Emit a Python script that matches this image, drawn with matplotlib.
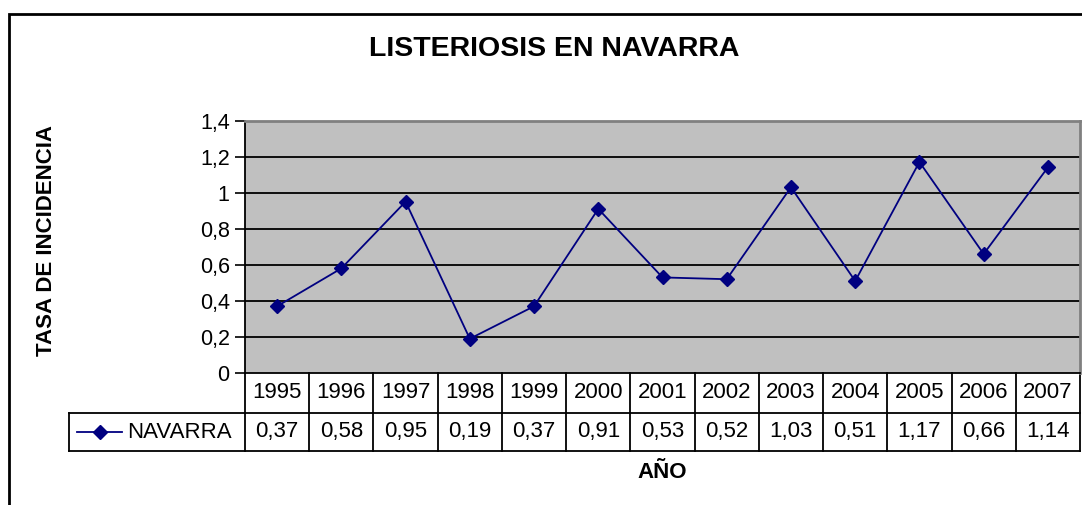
import matplotlib.pyplot as plt
import matplotlib.patches as mpatches
from matplotlib.lines import Line2D

plt.rcParams['font.family'] = ['Liberation Sans', 'DejaVu Sans']

years = [1995, 1996, 1997, 1998, 1999, 2000, 2001, 2002, 2003, 2004, 2005, 2006, 2007]
navarra = [0.37, 0.58, 0.95, 0.19, 0.37, 0.91, 0.53, 0.52, 1.03, 0.51, 1.17, 0.66, 1.14]
yticks = [0, 0.2, 0.4, 0.6, 0.8, 1.0, 1.2, 1.4]
series_name = "NAVARRA"
navy = "#000080"

W, H = 1082, 505
fig = plt.figure(figsize=(W / 100, H / 100), dpi=100)

# plot area in pixels
left, right, top, bottom = 245, 1080, 120.5, 373
ax = fig.add_axes([left / W, 1 - bottom / H, (right - left) / W, (bottom - top) / H])
ax.set_facecolor("#c0c0c0")

n = len(years)
idx = list(range(n))
ax.plot(idx, navarra, color=navy, lw=1.3, marker="D", ms=7.5, mfc=navy, mec=navy, zorder=3)

ax.set_xlim(-0.5, n - 0.5)
ax.set_ylim(0, 1.4)
ax.set_yticks(yticks)
ax.set_yticklabels([f"{v:g}".replace(".", ",") for v in yticks], fontsize=15.5)
ax.set_xticks([])
for v in yticks[1:-1]:
    ax.axhline(v, color="black", lw=1.3, zorder=1)
ax.tick_params(axis="y", direction="out", length=7, width=1.2, pad=4)
for s in ["left", "bottom"]:
    ax.spines[s].set_color("black")
    ax.spines[s].set_linewidth(1.3)
for s in ["top", "right"]:
    ax.spines[s].set_color("#808080")
    ax.spines[s].set_linewidth(2)

# data table under the plot
ah = bottom - top
r1 = -40 / ah
r2 = -78 / ah
lx = (69 - left) / (right - left)
tb = ax.get_xaxis_transform()
kw = dict(color="black", lw=1.3, clip_on=False, transform=ax.transAxes)
ax.add_line(Line2D([lx, 1], [r1, r1], **kw))
ax.add_line(Line2D([lx, 1], [r2, r2], **kw))
ax.add_line(Line2D([lx, lx], [r1, r2], **kw))
ax.add_line(Line2D([1, 1], [0, r2], **kw))
for i in range(n):
    ax.add_line(Line2D([i - 0.5, i - 0.5], [0, r2], color="black", lw=1.3,
                       clip_on=False, transform=tb))
    ax.text(i, r1 / 2, str(years[i]), transform=tb, ha="center", va="center",
            fontsize=16)
    ax.text(i, (r1 + r2) / 2, f"{navarra[i]:.2f}".replace(".", ","), transform=tb,
            ha="center", va="center", fontsize=16)

# legend key in the table
ym = (r1 + r2) / 2
kx0 = (77 - left) / (right - left)
kx1 = (122 - left) / (right - left)
ax.plot([kx0, kx1], [ym, ym], color=navy, lw=1.3, transform=ax.transAxes, clip_on=False)
ax.plot([(kx0 + kx1) / 2], [ym], marker="D", ms=7.5, color=navy,
        transform=ax.transAxes, clip_on=False)
ax.text((127 - left) / (right - left), ym, series_name, transform=ax.transAxes,
        ha="left", va="center", fontsize=16)

fig.text(554 / W, 1 - 49 / H, "LISTERIOSIS EN NAVARRA",
         ha="center", va="center", fontsize=20.5, fontweight="bold")
fig.text((left + right) / 2 / W, 1 - 472 / H, "AÑO",
         ha="center", va="center", fontsize=16, fontweight="bold")
fig.text(47 / W, 1 - 241 / H, "TASA DE INCIDENCIA", rotation=90,
         ha="center", va="center", fontsize=16, fontweight="bold")

# outer chart frame (clipped right and bottom)
fig.add_artist(mpatches.Rectangle((9 / W, -0.1), 1.2, 1 - 14 / H + 0.1,
                                  transform=fig.transFigure, fill=False,
                                  edgecolor="black", lw=2))

fig.savefig("out.png", dpi=100)
